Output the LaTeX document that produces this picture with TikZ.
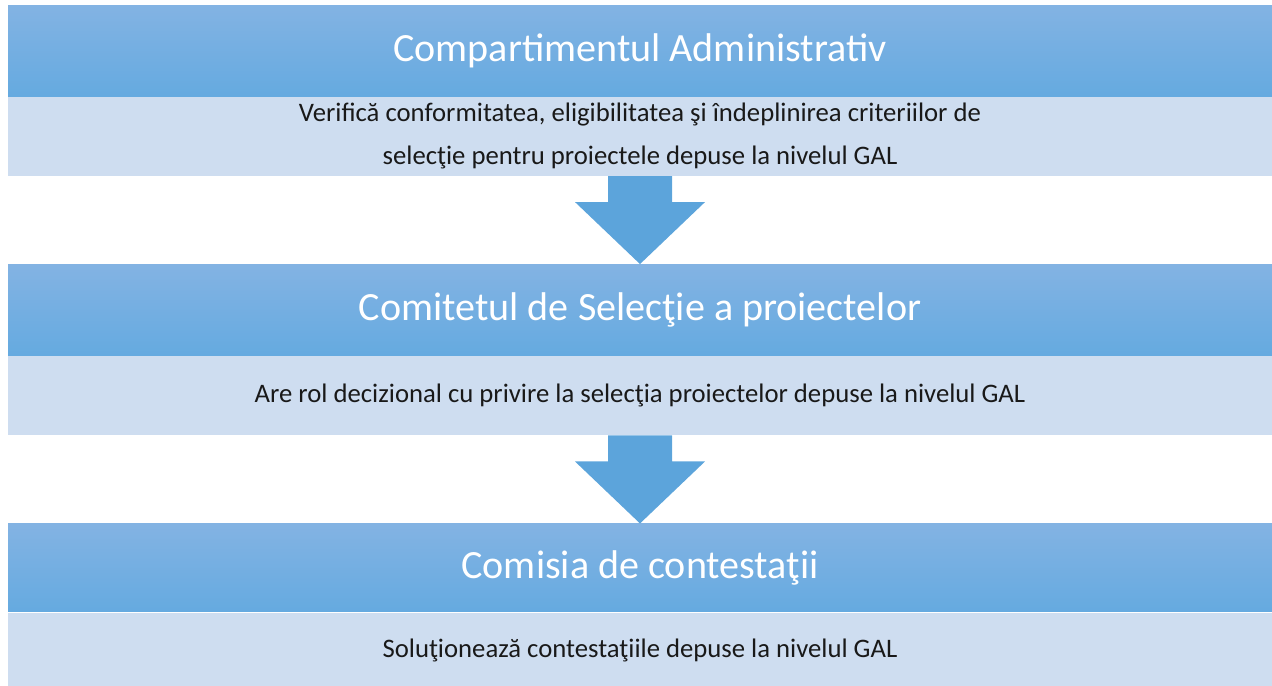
\documentclass[tikz,border=0pt]{standalone}
\usepackage{fontspec}
\setmainfont{Carlito}
\usetikzlibrary{calc, positioning}

\definecolor{hdrtop}{RGB}{131,179,227}
\definecolor{hdrbot}{RGB}{101,170,224}
\definecolor{bodyfill}{RGB}{206,221,240}
\definecolor{arrowfill}{RGB}{92,164,219}

\tikzset{
  header/.style={shade, top color=hdrtop, bottom color=hdrbot, text=white,
    minimum width=25.28cm, minimum height=1.82cm, inner sep=0pt,
    font=\fontsize{22.8}{26}\selectfont},
  bodybox/.style={fill=bodyfill, text=black!90, align=center,
    minimum width=25.28cm, minimum height=1.58cm, inner sep=0pt,
    font=\fontsize{15.2}{24.4}\selectfont},
  blockarrow/.style={fill=arrowfill}
}

\begin{document}
\begin{tikzpicture}
  \useasboundingbox (0,0) rectangle (25.44,-13.7);

  % first level
  \node[header] (hdr1) at (12.8,-1.01) {Compartimentul Administrativ};
  \node[bodybox, below=0pt of hdr1] (body1)
    {Verifică conformitatea, eligibilitatea şi îndeplinirea criteriilor de\\
     selecţie pentru proiectele depuse la nivelul GAL};

  % second level
  \node[header, below=1.76cm of body1] (hdr2) {Comitetul de Selecţie a proiectelor};
  \node[bodybox, below=0pt of hdr2] (body2)
    {Are rol decizional cu privire la selecţia proiectelor depuse la nivelul GAL};

  % third level
  \node[header, below=1.76cm of body2, minimum height=1.76cm] (hdr3) {Comisia de contestaţii};
  \node[bodybox, below=0pt of hdr3, minimum height=1.52cm] (body3)
    {Soluţionează contestaţiile depuse la nivelul GAL};

  % block arrows between levels
  \foreach \a/\b in {body1/hdr2, body2/hdr3} {
    \fill[blockarrow] ($(\a.south)+(-0.64,0)$) -- ($(\a.south)+(0.64,0)$)
      -- ++(0,-0.52) -- ++(0.66,0) -- (\b.north)
      -- ($(\a.south)+(-1.3,-0.52)$) -- ++(0.66,0) -- cycle;
  }
\end{tikzpicture}
\end{document}
